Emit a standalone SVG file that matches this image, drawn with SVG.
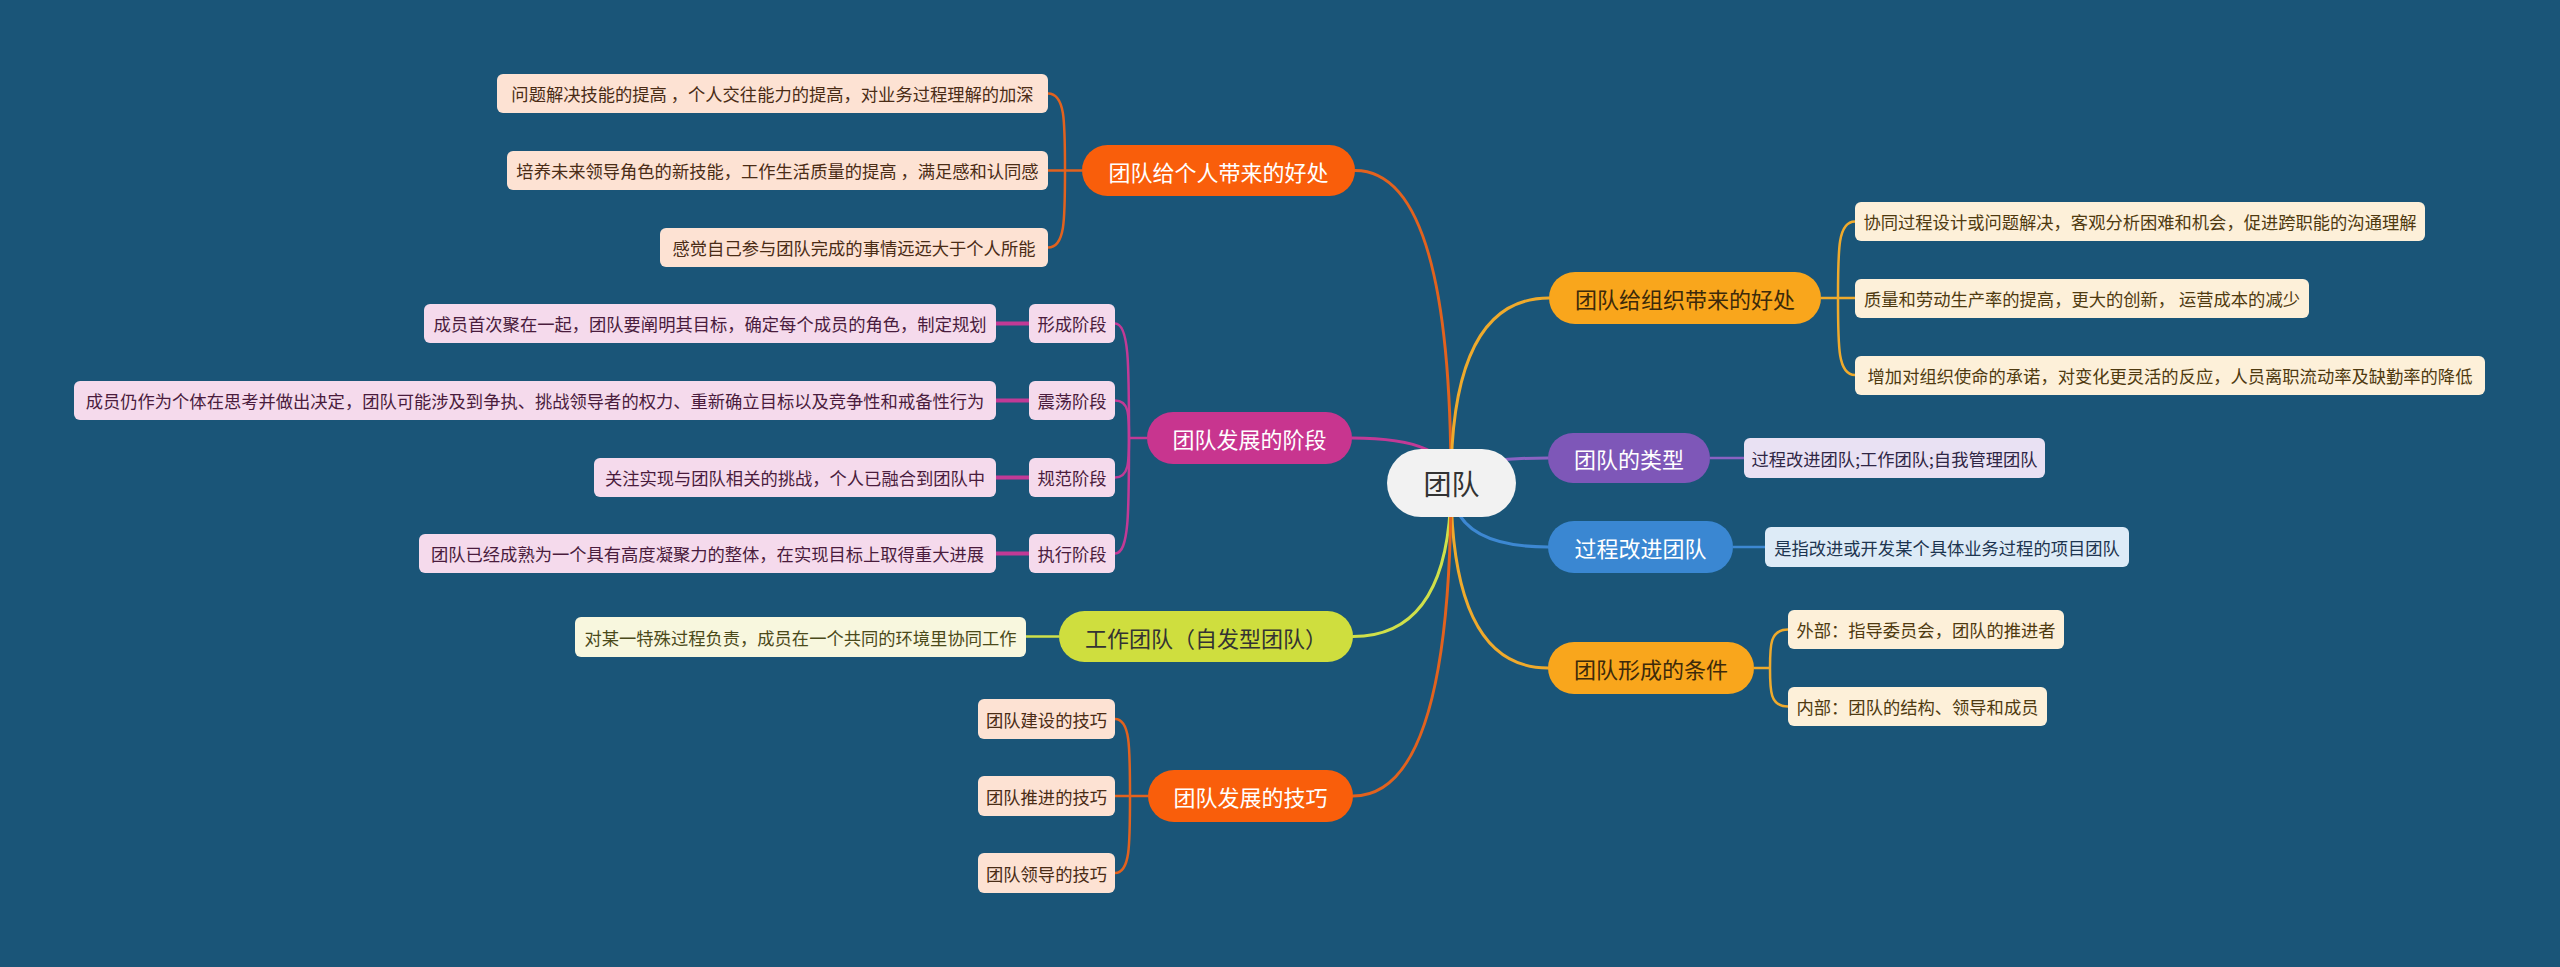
<svg xmlns="http://www.w3.org/2000/svg" width="2560" height="967" viewBox="0 0 2560 967">
<style>
text{font-family:"Noto Sans CJK SC","Noto Sans",sans-serif;text-anchor:middle;dominant-baseline:central}
.main{font-size:22px}
.sub{font-size:17.3px}
.ctr{font-size:28px;fill:#333}
.w{fill:#fff}
.d{fill:#3d2a0a}
.ln{fill:none;stroke-width:3;stroke-linecap:round}
.br{fill:none;stroke-width:2.5}
.or{stroke:#e2621e}.ye{stroke:#efaa2c}.mg{stroke:#c23a96}.pu{stroke:#8a62c2}.bl{stroke:#3d88d2}.li{stroke:#cfe04a}
.cOr{fill:#fde2d3}.tOr{fill:#4a2c16}
.cYe{fill:#fdf0d9}.tYe{fill:#4f3a10}
.cMg{fill:#f5daec}.tMg{fill:#4a1c3d}
.cPu{fill:#e9e1f3}.tPu{fill:#2f2645}
.cBl{fill:#ddebf7}.tBl{fill:#1d3550}
.cLi{fill:#f8f7de}.tLi{fill:#4b4a1a}
</style>
<rect width="2560" height="967" fill="#1a5578"/>
<g id="connectors">
<path class="ln or" d="M1451,483 Q1451,170.5 1355,170.5"/>
<path class="ln ye" d="M1451,483 Q1451,298 1549,298"/>
<path class="ln mg" d="M1451,483 Q1451,438 1352,438"/>
<path class="ln pu" d="M1451,483 Q1451,458 1548,458"/>
<path class="ln bl" d="M1451,483 Q1451,547 1548,547"/>
<path class="ln li" d="M1451,483 Q1451,636.5 1353,636.5"/>
<path class="ln ye" d="M1451,483 Q1451,668 1548,668"/>
<path class="ln or" d="M1451,483 Q1451,796 1353,796"/>
<!-- L1 bracket -->
<path class="br or" d="M1082,170.5 H1048"/>
<path class="br or" d="M1065,170.5 C1065,120 1065,93.5 1048,93.5"/>
<path class="br or" d="M1065,170.5 C1065,221 1065,247.5 1048,247.5"/>
<!-- R1 bracket -->
<path class="br ye" d="M1821,298 H1855"/>
<path class="br ye" d="M1838,298 C1838,248 1838,221.5 1855,221.5"/>
<path class="br ye" d="M1838,298 C1838,348 1838,375 1855,375"/>
<!-- L2 bracket -->
<path class="br mg" d="M1147,438 H1129"/>
<path class="br mg" d="M1129,438 C1129,364 1129,323.5 1115,323.5"/>
<path class="br mg" d="M1129,438 C1129,414 1129,400.5 1115,400.5"/>
<path class="br mg" d="M1129,438 C1129,462 1129,477.5 1115,477.5"/>
<path class="br mg" d="M1129,438 C1129,513 1129,553.5 1115,553.5"/>
<path class="mg" stroke-width="4" d="M1029,323.5 H996 M1029,400.5 H996 M1029,477.5 H996 M1029,553.5 H996"/>
<!-- R2, R3, L3 -->
<path class="br pu" d="M1710,458 H1744"/>
<path class="br bl" d="M1733,547 H1765"/>
<path class="br li" d="M1059,636.5 H1026"/>
<!-- R4 bracket -->
<path class="br ye" d="M1754,668 H1770"/>
<path class="br ye" d="M1770,668 C1770,645 1770,629.5 1788,629.5"/>
<path class="br ye" d="M1770,668 C1770,691 1770,706.5 1788,706.5"/>
<!-- L4 bracket -->
<path class="br or" d="M1148,796 H1115"/>
<path class="br or" d="M1130,796 C1130,746 1130,719 1115,719"/>
<path class="br or" d="M1130,796 C1130,846 1130,873 1115,873"/>
</g>
<g id="center">
<rect x="1387" y="449" width="129" height="68" rx="34" fill="#f2f2f2"/>
<text class="ctr" x="1451.5" y="483">团队</text>
</g>
<g id="n-personal">
<rect x="1082" y="145" width="273" height="51" rx="25.5" fill="#f95e0b"/>
<text class="main w" x="1218.5" y="170.5">团队给个人带来的好处</text>
</g>
<g id="n-personal-1"><rect class="cOr" x="497" y="74" width="551" height="39" rx="6"/><text class="sub tOr" x="772.5" y="93.5">问题解决技能的提高 ，个人交往能力的提高，对业务过程理解的加深</text></g>
<g id="n-personal-2"><rect class="cOr" x="507" y="151" width="541" height="39" rx="6"/><text class="sub tOr" x="777.5" y="170.5">培养未来领导角色的新技能，工作生活质量的提高 ，满足感和认同感</text></g>
<g id="n-personal-3"><rect class="cOr" x="660" y="228" width="388" height="39" rx="6"/><text class="sub tOr" x="854" y="247.5">感觉自己参与团队完成的事情远远大于个人所能</text></g>
<g id="n-org">
<rect x="1549" y="272" width="272" height="52" rx="26" fill="#f9a61c"/>
<text class="main d" x="1685" y="298">团队给组织带来的好处</text>
</g>
<g id="n-org-1"><rect class="cYe" x="1855" y="202" width="570" height="39" rx="6"/><text class="sub tYe" x="2140" y="221.5">协同过程设计或问题解决，客观分析困难和机会，促进跨职能的沟通理解</text></g>
<g id="n-org-2"><rect class="cYe" x="1855" y="279" width="454" height="39" rx="6"/><text class="sub tYe" x="2082" y="298.5">质量和劳动生产率的提高，更大的创新， 运营成本的减少</text></g>
<g id="n-org-3"><rect class="cYe" x="1855" y="356" width="630" height="39" rx="6"/><text class="sub tYe" x="2170" y="375.5">增加对组织使命的承诺，对变化更灵活的反应，人员离职流动率及缺勤率的降低</text></g>
<g id="n-stage">
<rect x="1147" y="412" width="205" height="52" rx="26" fill="#c8358f"/>
<text class="main w" x="1249.5" y="438">团队发展的阶段</text>
</g>
<g id="n-stage-1"><rect class="cMg" x="1029" y="304" width="86" height="39" rx="6"/><text class="sub tMg" x="1072" y="323.5">形成阶段</text></g>
<g id="n-stage-2"><rect class="cMg" x="1029" y="381" width="86" height="39" rx="6"/><text class="sub tMg" x="1072" y="400.5">震荡阶段</text></g>
<g id="n-stage-3"><rect class="cMg" x="1029" y="458" width="86" height="39" rx="6"/><text class="sub tMg" x="1072" y="477.5">规范阶段</text></g>
<g id="n-stage-4"><rect class="cMg" x="1029" y="534" width="86" height="39" rx="6"/><text class="sub tMg" x="1072" y="553.5">执行阶段</text></g>
<g id="n-stage-1d"><rect class="cMg" x="424" y="304" width="572" height="39" rx="6"/><text class="sub tMg" x="710" y="323.5">成员首次聚在一起，团队要阐明其目标，确定每个成员的角色，制定规划</text></g>
<g id="n-stage-2d"><rect class="cMg" x="74" y="381" width="922" height="39" rx="6"/><text class="sub tMg" x="535" y="400.5">成员仍作为个体在思考并做出决定，团队可能涉及到争执、挑战领导者的权力、重新确立目标以及竞争性和戒备性行为</text></g>
<g id="n-stage-3d"><rect class="cMg" x="594" y="458" width="402" height="39" rx="6"/><text class="sub tMg" x="795" y="477.5">关注实现与团队相关的挑战，个人已融合到团队中</text></g>
<g id="n-stage-4d"><rect class="cMg" x="419" y="534" width="577" height="39" rx="6"/><text class="sub tMg" x="707.5" y="553.5">团队已经成熟为一个具有高度凝聚力的整体，在实现目标上取得重大进展</text></g>
<g id="n-type">
<rect x="1548" y="433" width="162" height="50" rx="25" fill="#7e57b8"/>
<text class="main w" x="1629" y="458">团队的类型</text>
</g>
<g id="n-type-1"><rect class="cPu" x="1744" y="438" width="301" height="40" rx="6"/><text class="sub tPu" x="1894.5" y="458">过程改进团队;工作团队;自我管理团队</text></g>
<g id="n-process">
<rect x="1548" y="521" width="185" height="52" rx="26" fill="#3a87d2"/>
<text class="main w" x="1640.5" y="547">过程改进团队</text>
</g>
<g id="n-process-1"><rect class="cBl" x="1765" y="527" width="364" height="40" rx="6"/><text class="sub tBl" x="1947" y="547">是指改进或开发某个具体业务过程的项目团队</text></g>
<g id="n-work">
<rect x="1059" y="611" width="294" height="51" rx="25.5" fill="#cfde3e"/>
<text class="main" fill="#333" x="1206" y="636.5">工作团队（自发型团队）</text>
</g>
<g id="n-work-1"><rect class="cLi" x="575" y="617" width="451" height="40" rx="6"/><text class="sub tLi" x="800.5" y="637">对某一特殊过程负责，成员在一个共同的环境里协同工作</text></g>
<g id="n-cond">
<rect x="1548" y="642" width="206" height="52" rx="26" fill="#f9a61c"/>
<text class="main d" x="1651" y="668">团队形成的条件</text>
</g>
<g id="n-cond-1"><rect class="cYe" x="1788" y="610" width="276" height="39" rx="6"/><text class="sub tYe" x="1926" y="629.5">外部：指导委员会，团队的推进者</text></g>
<g id="n-cond-2"><rect class="cYe" x="1788" y="687" width="259" height="39" rx="6"/><text class="sub tYe" x="1917.5" y="706.5">内部：团队的结构、领导和成员</text></g>
<g id="n-skill">
<rect x="1148" y="770" width="205" height="52" rx="26" fill="#f95e0b"/>
<text class="main w" x="1250.5" y="796">团队发展的技巧</text>
</g>
<g id="n-skill-1"><rect class="cOr" x="978" y="699" width="137" height="40" rx="6"/><text class="sub tOr" x="1046.5" y="719">团队建设的技巧</text></g>
<g id="n-skill-2"><rect class="cOr" x="978" y="776" width="137" height="40" rx="6"/><text class="sub tOr" x="1046.5" y="796">团队推进的技巧</text></g>
<g id="n-skill-3"><rect class="cOr" x="978" y="853" width="137" height="40" rx="6"/><text class="sub tOr" x="1046.5" y="873">团队领导的技巧</text></g>
</svg>
